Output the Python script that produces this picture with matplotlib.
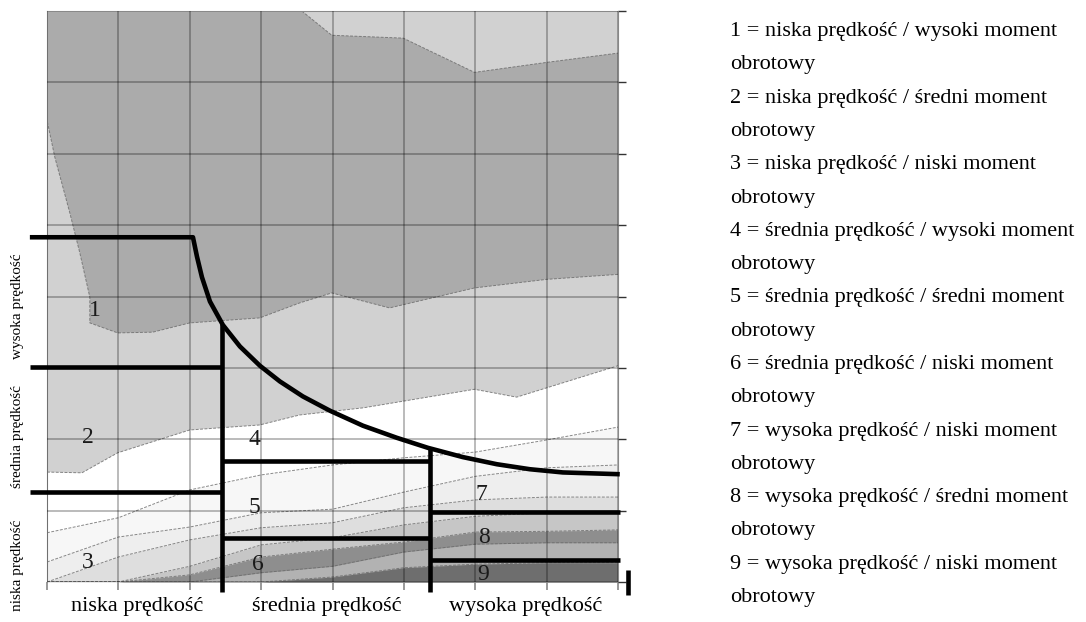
import matplotlib.pyplot as plt
import numpy as np

plt.rcParams['font.family'] = ['Liberation Serif', 'DejaVu Serif']

# upper light/dark boundary (top right)
A_X = [3.57, 3.99, 4.99, 5.99, 7.0, 8.0]
A_Y = [8.0, 7.66, 7.62, 7.14, 7.28, 7.41]
# lower edge of the dark region, right to left, then up the left side
B_X = [8.0, 7.0, 5.99, 4.80, 3.99, 3.54, 2.98, 2.0, 1.48, 0.99, 0.60, 0.60, 0.46, 0.32, 0.11, 0.0]
B_Y = [4.31, 4.24, 4.12, 3.84, 4.05, 3.91, 3.70, 3.63, 3.50, 3.49, 3.63, 3.99, 4.61, 5.17, 5.95, 6.47]
# light gray -> white
C_X = [0, 0.49, 0.99, 2.0, 2.98, 3.54, 4.43, 5.99, 6.58, 8.0]
C_Y = [1.54, 1.53, 1.81, 2.13, 2.20, 2.34, 2.44, 2.70, 2.59, 3.03]

# lower contour bands, sampled on the grid columns
XS = [0, 1, 2, 3, 4, 5, 6, 7, 8]
BANDS = [
    ([0.69, 0.90, 1.29, 1.50, 1.64, 1.74, 1.82, 1.99, 2.17], '#f7f7f7'),
    ([0.28, 0.63, 0.77, 0.97, 1.02, 1.26, 1.48, 1.60, 1.64], '#eeeeee'),
    ([0.00, 0.35, 0.59, 0.76, 0.83, 1.04, 1.15, 1.19, 1.19], '#dedede'),
    ([0.00, 0.00, 0.22, 0.52, 0.62, 0.80, 0.92, 0.97, 0.97], '#c6c6c6'),
    ([0.00, 0.00, 0.10, 0.35, 0.46, 0.56, 0.70, 0.71, 0.73], '#8e8e8e'),
    ([0.00, 0.00, 0.00, 0.13, 0.22, 0.42, 0.53, 0.55, 0.55], '#b2b2b2'),
    ([0.00, 0.00, 0.00, 0.00, 0.07, 0.20, 0.25, 0.27, 0.27], '#6e6e6e'),
]

# thick region border: top line + constant-power curve
CURVE_X = [-0.24, 2.045, 2.101, 2.171, 2.283, 2.465, 2.703, 2.983, 3.263, 3.585,
           3.964, 4.426, 4.902, 5.336, 5.826, 6.303, 6.765, 7.227, 8.025]
CURVE_Y = [4.83, 4.83, 4.56, 4.27, 3.93, 3.60, 3.30, 3.03, 2.81, 2.60,
           2.40, 2.19, 2.02, 1.88, 1.75, 1.65, 1.58, 1.535, 1.51]
# (x0, x1, y) horizontal dividers, (x, y0, y1) vertical dividers
H_LINES = [(-0.24, 2.45, 3.01), (-0.24, 2.45, 1.26), (2.45, 5.364, 1.69),
           (2.45, 5.364, 0.62), (5.364, 8.03, 0.98), (5.364, 8.03, 0.31)]
V_LINES = [(2.45, 3.62, -0.14), (5.364, 1.87, -0.14), (8.14, 0.17, -0.18)]

NUM_LABELS = ['1', '2', '3', '4', '5', '6', '7', '8', '9']
NUM_X = [0.67, 0.57, 0.57, 2.91, 2.91, 2.95, 6.08, 6.12, 6.11]
NUM_Y = [3.81, 2.02, 0.28, 1.99, 1.05, 0.24, 1.23, 0.63, 0.10]

Y_LABELS = ['wysoka prędkość', 'średnia prędkość', 'niska prędkość']
X_LABELS = ['niska prędkość', 'średnia prędkość', 'wysoka prędkość']

LEGEND = [
    '1 = niska prędkość / wysoki moment',
    '2 = niska prędkość / średni moment',
    '3 = niska prędkość / niski moment',
    '4 = średnia prędkość / wysoki moment',
    '5 = średnia prędkość / średni moment',
    '6 = średnia prędkość / niski moment',
    '7 = wysoka prędkość / niski moment',
    '8 = wysoka prędkość / średni moment',
    '9 = wysoka prędkość / niski moment',
]

W, H = 1086, 622
fig = plt.figure(figsize=(W / 100, H / 100), dpi=100)
ax = fig.add_axes([47 / W, 40 / H, 571 / W, 571 / H])

# filled contour regions
ax.fill_between([0, 8], [0, 0], [8, 8], color='#d1d1d1', lw=0)
dark_x = np.r_[[0.0], A_X, B_X]
dark_y = np.r_[[8.0], A_Y, B_Y]
ax.fill(dark_x, dark_y, color='#ababab', lw=0)
ax.fill(np.r_[C_X, [8, 0]], np.r_[C_Y, [0, 0]], color='white', lw=0)
for ys, col in BANDS:
    ax.fill_between(XS, 0, ys, color=col, lw=0)

# thin dashed contour edges
edge = dict(color='#6a6a6a', lw=0.7, ls=(0, (3, 1.5)), alpha=0.8)
ax.plot(A_X, A_Y, **edge)
ax.plot(B_X, B_Y, **edge)
ax.plot(C_X, C_Y, **edge)
for ys, col in BANDS:
    ax.plot(XS, ys, **edge)

ax.set_xlim(0, 8)
ax.set_ylim(0, 8)
ax.set_xticks(range(9))
ax.set_yticks(range(9))
ax.set_axisbelow(False)
ax.grid(True, color='black', alpha=0.27, lw=1.4)
ax.tick_params(axis='x', direction='out', length=6, width=1.2, color='#888888',
               labelbottom=False)
ax.tick_params(axis='y', direction='out', length=6, width=1.0, color='#333333',
               left=False, right=True, labelleft=False)
ax.spines['bottom'].set_visible(False)
ax.spines['left'].set_color('#999999')
ax.spines['top'].set_color('#bbbbbb')
ax.spines['right'].set_color('#888888')

# thick black region borders
thick = dict(color='black', lw=3.3, clip_on=False, solid_capstyle='butt', zorder=5)
ax.plot(CURVE_X, CURVE_Y, solid_joinstyle='round', **thick)
for x0, x1, y in H_LINES:
    ax.plot([x0, x1], [y, y], **thick)
for x, y0, y1 in V_LINES:
    ax.plot([x, x], [y0, y1], **thick)

for s, x, y in zip(NUM_LABELS, NUM_X, NUM_Y):
    ax.text(x, y, s, fontsize=17, ha='center', va='center', color='#1a1a1a', zorder=6)

# side labels
for s, yc in zip(Y_LABELS, [306, 436, 565]):
    fig.text(17 / W, 1 - yc / H, s, rotation=90, fontsize=11, ha='center', va='center')
for s, xc in zip(X_LABELS, [137, 327, 526]):
    fig.text(xc / W, 1 - 606 / H, s, fontsize=16, ha='center', va='center')

# legend text on the right
for i, s in enumerate(LEGEND):
    y0 = 36 + 66.6 * i
    fig.text(730 / W, 1 - y0 / H, s, fontsize=16, va='baseline')
    fig.text(730 / W, 1 - (y0 + 33.3) / H, 'obrotowy', fontsize=16, va='baseline')

fig.savefig('out.png', dpi=100)
